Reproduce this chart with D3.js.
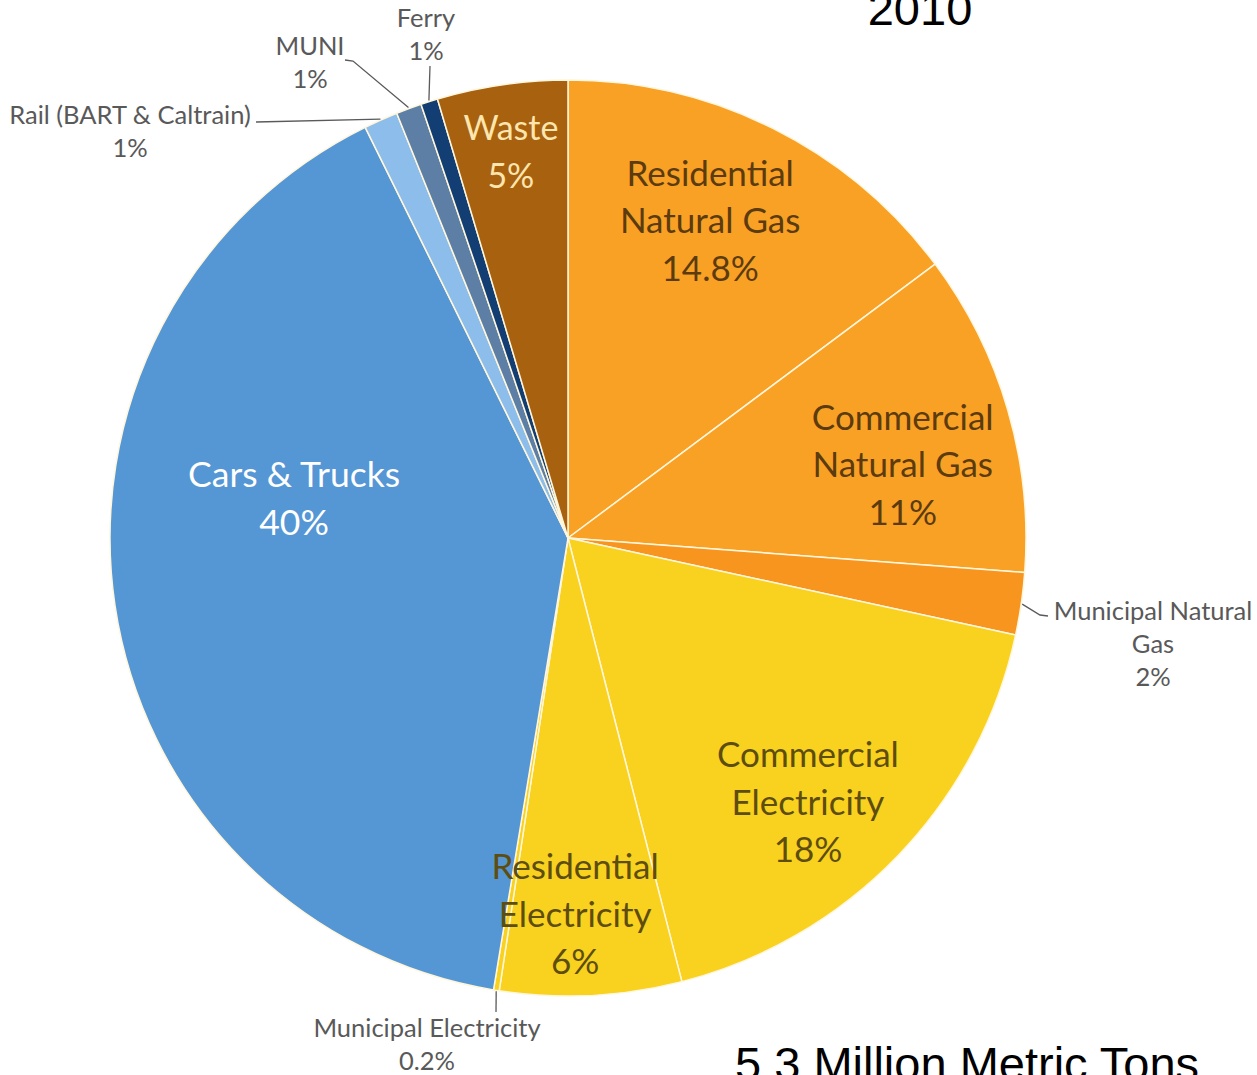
<!DOCTYPE html>
<html>
<head>
<meta charset="utf-8">
<script src="https://cdn.jsdelivr.net/npm/d3@7"></script>
<style>
  body { margin: 0; background: #fff; overflow: hidden; }
  svg { display: block; }
</style>
</head>
<body>
<div id="chart"></div>
<script>
// slices, clockwise from 12 o'clock (percent of total)
const categories = [
  'Residential Natural Gas', 'Commercial Natural Gas', 'Municipal Natural Gas',
  'Commercial Electricity', 'Residential Electricity', 'Municipal Electricity',
  'Cars & Trucks', 'Rail (BART & Caltrain)', 'MUNI', 'Ferry', 'Waste'
];
const values = [14.8, 11.4, 2.2, 17.6, 6.4, 0.2, 40.1, 1.2, 0.9, 0.6, 4.6];
const pctLabels = ['14.8%', '11%', '2%', '18%', '6%', '0.2%', '40%', '1%', '1%', '1%', '5%'];
const colors = ['#f9a125', '#f9a125', '#f7951f', '#f8d21e', '#f8d21e', '#f8d21e',
                '#5596d5', '#8cbdeb', '#5d7fa5', '#123e73', '#a8610e'];
const labelLines = [
  ['Residential', 'Natural Gas'], ['Commercial', 'Natural Gas'], ['Municipal Natural', 'Gas'],
  ['Commercial', 'Electricity'], ['Residential', 'Electricity'], ['Municipal Electricity'],
  ['Cars & Trucks'], ['Rail (BART & Caltrain)'], ['MUNI'], ['Ferry'], ['Waste']
];
const title = '2010';
const subtitle = '5.3 Million Metric Tons';

const W = 1257, H = 1075;
const cx = 568, cy = 538, R = 458;

const svg = d3.select('#chart').append('svg')
    .attr('width', W)
    .attr('height', H);

const data = categories.map((c, i) => ({
    name: c, value: values[i], pct: pctLabels[i], color: colors[i], lines: labelLines[i]
}));

const pie = d3.pie().sort(null).value(d => d.value);
const arcs = pie(data);
const arc = d3.arc().innerRadius(0).outerRadius(R);

const g = svg.append('g').attr('transform', `translate(${cx},${cy})`);

g.selectAll('path.slice')
    .data(arcs)
    .enter().append('path')
    .attr('class', 'slice')
    .attr('d', arc)
    .attr('fill', d => d.data.color)
    .attr('stroke', '#fff6dc')
    .attr('stroke-width', 1.5)
    .attr('stroke-linejoin', 'round');

// inside labels: radius and angle shift (degrees) from the slice mid angle
const inside = {
    'Residential Natural Gas': { r: 349, da: -2.6, size: 35, color: '#5b3b0f' },
    'Commercial Natural Gas': { r: 343, da: 3.6, size: 35, color: '#5b3b0f' },
    'Commercial Electricity': { r: 356, da: 3.7, size: 35, color: '#5e4d10' },
    'Residential Electricity': { r: 375, da: 1.8, size: 35, color: '#5e4d10' },
    'Cars & Trucks': { r: 277, da: 17, size: 35.5, color: '#ffffff' },
    'Waste': { r: 392, da: -0.1, size: 34, color: '#fde6ae' }
};
const lineGap = 47.5;

arcs.forEach(a => {
    const cfg = inside[a.data.name];
    if (!cfg) return;
    const ang = (a.startAngle + a.endAngle) / 2 + cfg.da * Math.PI / 180;
    const x = Math.sin(ang) * cfg.r, y = -Math.cos(ang) * cfg.r;
    const lines = a.data.lines.concat([a.data.pct]);
    const t = g.append('text')
        .attr('x', x)
        .attr('y', y - (lines.length - 1) * lineGap / 2)
        .attr('text-anchor', 'middle')
        .attr('dominant-baseline', 'central')
        .style('font-family', 'Lato, "DejaVu Sans", sans-serif')
        .style('font-size', cfg.size + 'px')
        .style('fill', cfg.color);
    lines.forEach((l, i) => {
        t.append('tspan').attr('x', x).attr('dy', i === 0 ? 0 : lineGap).text(l);
    });
});

// outside labels with leader lines (page coords)
const outside = {
    'Municipal Natural Gas': { x: 1153, y: 610, leader: [[1040, 615], [1048, 616]], anchor: 'middle' },
    'Municipal Electricity': { x: 427, y: 1027, leader: [[496, 1012]], anchor: 'middle' },
    'Rail (BART & Caltrain)': { x: 130, y: 114, leader: [[256, 122]], anchor: 'middle' },
    'MUNI': { x: 310, y: 45, leader: [[353, 61], [345, 60]], anchor: 'middle' },
    'Ferry': { x: 426, y: 17, leader: [[430, 66]], anchor: 'middle' }
};
const outGap = 33;

arcs.forEach(a => {
    const cfg = outside[a.data.name];
    if (!cfg) return;
    const ang = (a.startAngle + a.endAngle) / 2;
    const p0 = [cx + Math.sin(ang) * (R + 1), cy - Math.cos(ang) * (R + 1)];
    svg.append('path')
        .attr('d', d3.line()([p0].concat(cfg.leader)))
        .attr('fill', 'none')
        .attr('stroke', '#5a5a5a')
        .attr('stroke-width', 1.3);
    const lines = a.data.lines.concat([a.data.pct]);
    const t = svg.append('text')
        .attr('x', cfg.x)
        .attr('y', cfg.y)
        .attr('text-anchor', cfg.anchor)
        .attr('dominant-baseline', 'central')
        .style('font-family', 'Lato, "DejaVu Sans", sans-serif')
        .style('font-size', '25.5px')
        .style('fill', '#595959');
    lines.forEach((l, i) => {
        t.append('tspan').attr('x', cfg.x).attr('dy', i === 0 ? 0 : outGap).text(l);
    });
});

svg.append('text')
    .attr('x', 920)
    .attr('y', 25)
    .attr('text-anchor', 'middle')
    .style('font-family', '"Liberation Sans", Arial, sans-serif')
    .style('font-size', '47px')
    .style('fill', '#000')
    .text(title);

svg.append('text')
    .attr('x', 735)
    .attr('y', 1080)
    .style('font-family', '"Liberation Sans", Arial, sans-serif')
    .style('font-size', '47px')
    .style('fill', '#000')
    .text(subtitle);
</script>
</body>
</html>
